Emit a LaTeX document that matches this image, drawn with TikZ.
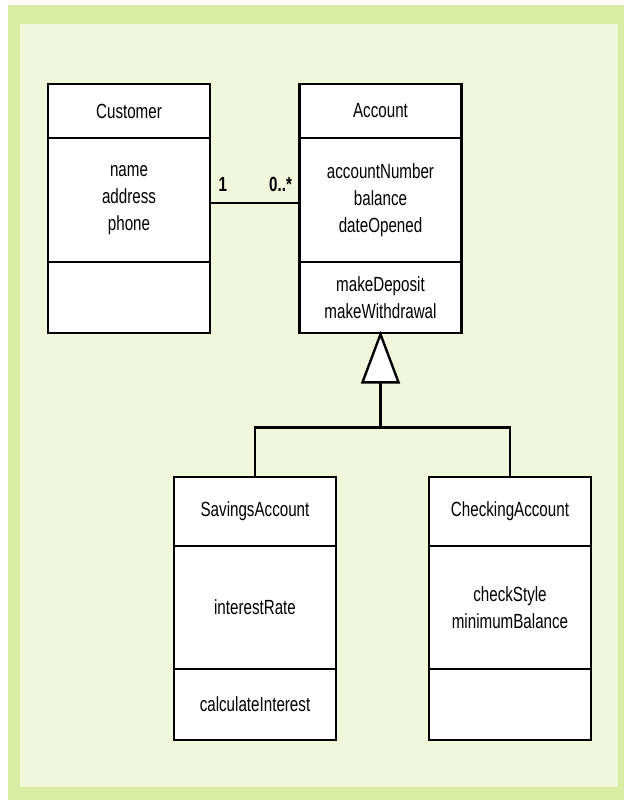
\documentclass[tikz,border=0pt]{standalone}
\usepackage{fontspec}
\setmainfont{Liberation Sans}[FakeStretch=0.74]
\definecolor{frameGreen}{HTML}{D8ECA2}
\definecolor{panelGreen}{HTML}{F0F8DC}
\begin{document}
\begin{tikzpicture}[x=1pt,y=-1pt,
  compartment/.style={draw=black, line width=2.6pt, fill=white, minimum width=162pt,
    inner sep=0pt, align=center, font=\fontsize{20.5}{27}\selectfont},
  link/.style={draw=black, line width=2.4pt},
  mult/.style={inner sep=0pt, font=\fontsize{20.5}{22}\selectfont\bfseries}]
  % page, outer frame and inner panel
  \useasboundingbox (0,0) rectangle (624,800);
  \fill[white] (0,0) rectangle (624,800);
  \fill[frameGreen] (8,5) rectangle (624,800);
  \fill[panelGreen] (20,24) rectangle (618,787);

  % Customer
  \node[compartment, minimum height=54pt]  (cust-name) at (129,111)   {Customer};
  \node[compartment, minimum height=124pt] (cust-attr) at (129,200)   {name\\address\\phone};
  \node[compartment, minimum height=71pt]  (cust-ops)  at (129,297.5) {};

  % Account
  \node[compartment, minimum height=54pt]  (acct-name) at (380.5,111)   {Account};
  \node[compartment, minimum height=124pt] (acct-attr) at (380.5,200)   {accountNumber\\balance\\dateOpened};
  \node[compartment, minimum height=71pt]  (acct-ops)  at (380.5,297.5) {makeDeposit\\makeWithdrawal};

  % SavingsAccount
  \node[compartment, minimum height=69pt]  (sav-name) at (255,511.5) {SavingsAccount};
  \node[compartment, minimum height=123pt] (sav-attr) at (255,607.5) {interestRate};
  \node[compartment, minimum height=71pt]  (sav-ops)  at (255,704.5) {calculateInterest};

  % CheckingAccount
  \node[compartment, minimum height=69pt]  (chk-name) at (510,511.5) {CheckingAccount};
  \node[compartment, minimum height=123pt] (chk-attr) at (510,607.5) {checkStyle\\minimumBalance};
  \node[compartment, minimum height=71pt]  (chk-ops)  at (510,704.5) {};

  % association Customer -- Account
  \coordinate (assoc-l) at ([yshift=-3pt]cust-attr.east);
  \coordinate (assoc-r) at ([yshift=-3pt]acct-attr.west);
  \draw[link] (assoc-l) -- (assoc-r);
  \node[mult, anchor=south west] (mult-one)  at ([xshift=7pt,yshift=11pt]assoc-l) {1};
  \node[mult, anchor=south east] (mult-many) at ([xshift=-6pt,yshift=11pt]assoc-r) {0..*};

  % generalization: hollow triangle under Account, then a bus to the subclasses
  \coordinate (tri-apex) at (acct-ops.south);
  \coordinate (tri-base) at ([yshift=-48pt]tri-apex);
  \coordinate (tri-bl) at ([xshift=-18pt]tri-base);
  \coordinate (tri-br) at ([xshift=18pt]tri-base);
  \coordinate (split) at ([yshift=-93pt]tri-apex);
  \draw[link, fill=white, line join=miter] (tri-apex) -- (tri-bl) -- (tri-br) -- cycle;
  \draw[link] (tri-base) -- (split);
  \draw[link] (sav-name.north) |- (split) -| (chk-name.north);
\end{tikzpicture}
\end{document}
